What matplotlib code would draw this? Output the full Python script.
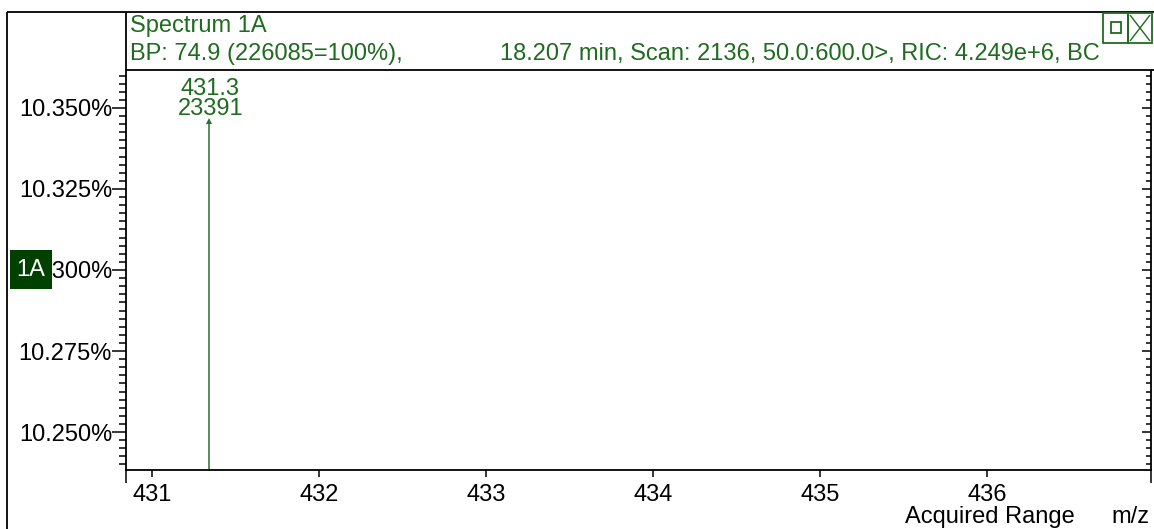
import matplotlib

matplotlib.use("Agg")
import matplotlib.pyplot as plt
from matplotlib.lines import Line2D
from matplotlib.patches import Rectangle
from matplotlib.ticker import FixedLocator, MultipleLocator

WIDTH, HEIGHT = 1154, 529

spectrum_name = "Spectrum 1A"
trace_tag = "1A"
base_peak_mz = 74.9
base_peak_counts = 226085
retention_min = 18.207
scan_number = 2136
scan_range = "50.0:600.0"
ric_text = "4.249e+6"

peak_mz = [431.34]
peak_counts = [23391]

x_ticks = [431, 432, 433, 434, 435, 436]
y_ticks = [10.250, 10.275, 10.300, 10.325, 10.350]
x_limits = (430.844, 436.983)
y_limits = (10.2383, 10.3617)

GREEN = "#1f6b1f"
DARK_GREEN = "#004000"
FONT = "Liberation Sans"
FS = 17


def fx(px):
    return px / WIDTH


def fy(py):
    return 1 - py / HEIGHT


def fig_line(fig, xs, ys, color="black", lw=1.3, zorder=3):
    fig.add_artist(
        Line2D([fx(x) for x in xs], [fy(y) for y in ys],
               color=color, lw=lw, zorder=zorder, solid_capstyle="butt")
    )


def fig_rect(fig, x0, y0, x1, y1, **kwargs):
    fig.add_artist(
        Rectangle((fx(x0), fy(y1)), fx(x1) - fx(x0), fy(y0) - fy(y1),
                  transform=fig.transFigure, **kwargs)
    )


plt.rcParams["font.family"] = [FONT, "DejaVu Sans"]

fig = plt.figure(figsize=(WIDTH / 100, HEIGHT / 100), dpi=100)
fig.patch.set_facecolor("white")

# plot area in pixel coordinates
ax_left, ax_right, ax_top, ax_bottom = 126, 1151, 70, 470
ax = fig.add_axes([fx(ax_left), fy(ax_bottom),
                   fx(ax_right) - fx(ax_left), fy(ax_top) - fy(ax_bottom)])
ax.set_xlim(*x_limits)
ax.set_ylim(*y_limits)
ax.spines["top"].set_visible(False)
ax.spines["right"].set_visible(False)
for side in ("left", "bottom"):
    ax.spines[side].set_linewidth(1.3)

ax.xaxis.set_major_locator(FixedLocator(x_ticks))
ax.set_xticklabels([str(t) for t in x_ticks])
ax.yaxis.set_major_locator(FixedLocator(y_ticks))
ax.yaxis.set_minor_locator(MultipleLocator(0.0025))
ax.set_yticklabels([f"{t:.3f}%" for t in y_ticks])
ax.tick_params(axis="x", direction="out", length=5, width=1.1, pad=5,
               labelsize=FS, colors="black")
ax.tick_params(axis="y", which="major", direction="out", length=10,
               width=1.1, pad=0, labelsize=FS)
ax.tick_params(axis="y", which="minor", direction="out", length=5, width=1.1)

right = ax.secondary_yaxis("right")
right.yaxis.set_major_locator(FixedLocator(y_ticks))
right.yaxis.set_minor_locator(MultipleLocator(0.0025))
right.tick_params(which="major", direction="in", length=6.5, width=1.1,
                  labelright=False)
right.tick_params(which="minor", direction="in", length=3.6, width=1.1)
right.spines["right"].set_linewidth(1.3)

# spectrum sticks, height as percent of base peak
for mz, counts in zip(peak_mz, peak_counts):
    pct = counts / base_peak_counts * 100
    ax.plot([mz, mz], [y_limits[0], pct], color="#2d6e2d", lw=1.1,
            solid_capstyle="butt")
    ax.plot([mz], [pct], marker="^", ms=4.5, color="#2d6e2d", mew=0)
    ax.annotate(f"{mz:.1f}", xy=(mz, pct), xytext=(1, 23),
                textcoords="offset points", ha="center", va="center",
                color=GREEN, fontsize=FS)
    ax.annotate(f"{counts}", xy=(mz, pct), xytext=(1, 8),
                textcoords="offset points", ha="center", va="center",
                color=GREEN, fontsize=FS)

# frame and header box
fig_line(fig, [6.5, 6.5], [11.5, HEIGHT])
fig_line(fig, [6.5, WIDTH], [11.5, 11.5])
fig_line(fig, [125.5, 125.5], [11.5, ax_top])
fig_line(fig, [125.5, WIDTH], [ax_top, ax_top])
fig_line(fig, [ax_left, ax_left], [ax_bottom, ax_bottom + 13], lw=1.1)
fig_line(fig, [ax_right, ax_right], [ax_bottom, ax_bottom + 13], lw=1.1)

fig.text(fx(130), fy(26), spectrum_name, color=GREEN, fontsize=FS,
         ha="left", va="center")
fig.text(fx(130), fy(54),
         f"BP: {base_peak_mz} ({base_peak_counts}=100%),",
         color=GREEN, fontsize=FS, ha="left", va="center")
fig.text(fx(500), fy(54),
         f"{retention_min} min, Scan: {scan_number}, {scan_range}>, "
         f"RIC: {ric_text}, BC",
         color=GREEN, fontsize=FS, ha="left", va="center")

# window buttons
fig_rect(fig, 1103, 13, 1128, 43, fill=False, edgecolor=GREEN, lw=1.3,
         zorder=4)
fig_rect(fig, 1128, 13, 1152, 43, fill=False, edgecolor=GREEN, lw=1.3,
         zorder=4)
fig_rect(fig, 1111, 22, 1121, 33, fill=False, edgecolor=GREEN, lw=1.3,
         zorder=4)
fig_line(fig, [1130, 1150], [15, 41], color=GREEN, lw=1.0, zorder=4)
fig_line(fig, [1130, 1150], [41, 15], color=GREEN, lw=1.0, zorder=4)

# trace tag over the middle y label
fig_rect(fig, 10, 250, 52, 289, facecolor=DARK_GREEN, edgecolor="none",
         zorder=5)
fig.text(fx(31), fy(270), trace_tag, color="white", fontsize=FS,
         ha="center", va="center", zorder=6)

fig.text(fx(990), fy(517), "Acquired Range", color="black", fontsize=FS,
         ha="center", va="center")
fig.text(fx(1130), fy(517), "m/z", color="black", fontsize=FS,
         ha="center", va="center")

fig.savefig("out.png", dpi=100, facecolor="white")
